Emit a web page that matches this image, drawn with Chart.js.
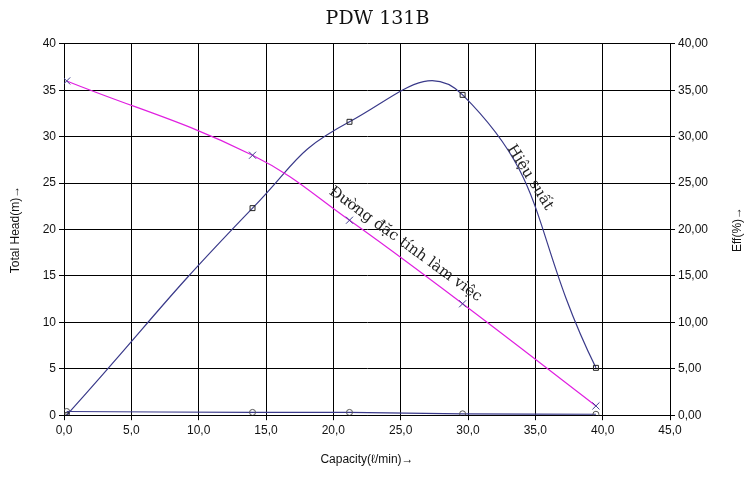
<!DOCTYPE html>
<html><head><meta charset="utf-8">
<script src="https://cdn.jsdelivr.net/npm/chart.js@4"></script>
<style>html,body{margin:0;background:#fff}#w{width:755px;height:485px}</style>
</head><body><div id="w"><canvas id="c"></canvas></div>
<script>
const capacity = [0.2, 14.0, 21.2, 29.6, 39.5];
const headValues = [36, 28, 21, 12, 1];
const effValues = [0, 22.3, 31.6, 34.5, 5.1];
const powerValues = [0.4, 0.3, 0.3, 0.15, 0.1];
const xTicks = [0,5,10,15,20,25,30,35,40,45];
const labels = [
  {text:'Đường đặc tính làm việc', x:25.35, y:18.4, angle:36},
  {text:'Hiệu suất', x:34.6, y:25.6, angle:58}
];
const pts = ys => capacity.map((x,i)=>({x, y:ys[i]}));
const textPlugin = {
  id:'txt',
  afterDatasetsDraw(ch){
    const c=ch.ctx, xs=ch.scales.x, ys=ch.scales.y;
    c.save();
    c.font='15px "DejaVu Serif", serif'; c.fillStyle='#222';
    c.textAlign='center'; c.textBaseline='middle';
    labels.forEach(l=>{
      c.save(); c.translate(xs.getPixelForValue(l.x), ys.getPixelForValue(l.y));
      c.rotate(l.angle*Math.PI/180); c.fillText(l.text,0,0); c.restore();
    });
    // right axis title, reading bottom to top
    const a=ch.chartArea;
    c.font='12px "Liberation Sans", sans-serif'; c.fillStyle='#111';
    c.save(); c.translate(738,(a.top+a.bottom)/2); c.rotate(-Math.PI/2); c.fillText('Eff(%)→',0,0); c.restore();
    c.restore();
  }
};
const fmt = v => v.toFixed(1).replace('.',',');
const fmt2 = v => v.toFixed(2).replace('.',',');
new Chart(document.getElementById('c'),{
  type:'scatter',
  data:{datasets:[
    {data:pts(headValues), borderColor:'#e020e0', backgroundColor:'#e020e0', showLine:true, tension:0.4, borderWidth:1.2,
     pointStyle:'cross', rotation:45, pointRadius:5, pointBorderColor:'#404090', pointBorderWidth:1, yAxisID:'y'},
    {data:pts(effValues), borderColor:'#3a3a8a', backgroundColor:'transparent', showLine:true, tension:0.5, borderWidth:1.2,
     pointStyle:'rect', pointRadius:3.5, pointBorderColor:'#222', pointBorderWidth:1, yAxisID:'y2'},
    {data:pts(powerValues), borderColor:'#3a3a8a', backgroundColor:'transparent', showLine:true, tension:0.4, borderWidth:1.2,
     pointStyle:'circle', pointRadius:3, pointBorderColor:'#555', pointBorderWidth:1, yAxisID:'y'}
  ]},
  options:{
    responsive:true, maintainAspectRatio:false, animation:false,
    layout:{padding:{top:8,right:4,bottom:14,left:4}},
    plugins:{legend:{display:false}, tooltip:{enabled:false},
      title:{display:true, text:'PDW 131B', font:{family:'"DejaVu Serif", serif', size:19, weight:'normal'}, color:'#111', padding:{top:0,bottom:13}}},
    scales:{
      x:{type:'linear', min:0, max:45, afterBuildTicks:a=>{a.ticks=xTicks.map(v=>({value:v}));},
        ticks:{callback:v=>fmt(v), color:'#111', font:{family:'Liberation Sans',size:12}, maxRotation:0},
        grid:{color:'#000', tickLength:5}, border:{color:'#000'},
        title:{display:true, text:'Capacity(ℓ/min)→', color:'#111', font:{family:'Liberation Sans',size:12}, padding:{top:12}}},
      y:{position:'left', min:0, max:40, ticks:{stepSize:5, color:'#111', font:{family:'Liberation Sans',size:12}},
        grid:{color:'#000', tickLength:5}, border:{color:'#000'},
        afterFit:a=>{a.width=60;},
        title:{display:true, text:'Total Head(m)→', color:'#111', font:{family:'Liberation Sans',size:12}}},
      y2:{position:'right', min:0, max:40, ticks:{stepSize:5, callback:v=>fmt2(v), color:'#111', font:{family:'Liberation Sans',size:12}},
        grid:{drawOnChartArea:false, color:'#000', tickLength:5}, border:{color:'#000'},
        afterFit:a=>{a.width=81;}}
    }
  },
  plugins:[textPlugin]
});
</script></body></html>
